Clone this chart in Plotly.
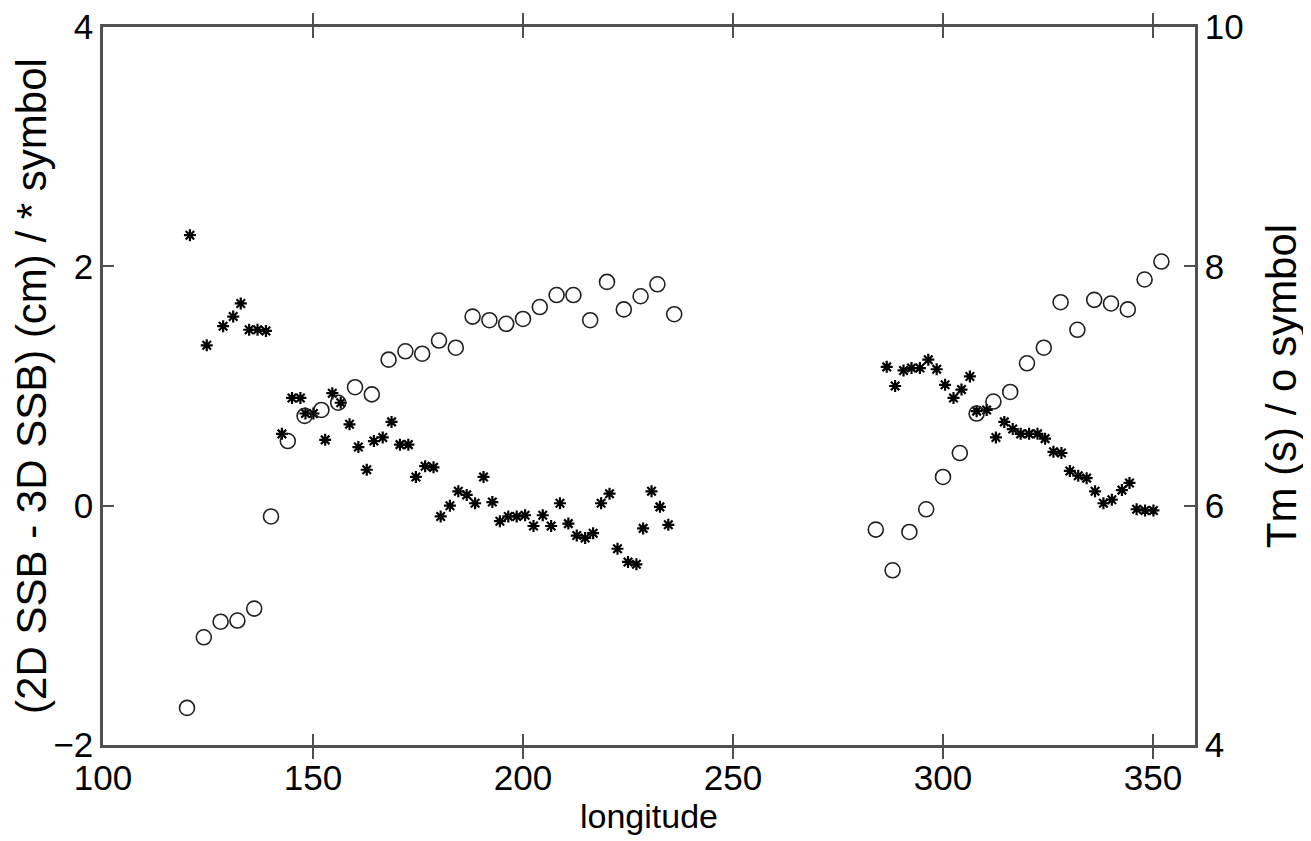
import plotly.graph_objects as go

# Tm (right axis, "o" symbol)
circle_lon = [120, 124, 128, 132, 136, 140, 144, 148, 152, 156, 160, 164, 168, 172, 176, 180,
              184, 188, 192, 196, 200, 204, 208, 212, 216, 220, 224, 228, 232, 236,
              284, 288, 292, 296, 300, 304, 308, 312, 316, 320, 324, 328, 332, 336, 340, 344, 348, 352]
circle_tm = [4.31, 4.90, 5.03, 5.04, 5.14, 5.91, 6.54, 6.75, 6.80, 6.86, 6.99, 6.93, 7.22, 7.29, 7.27, 7.38,
             7.32, 7.58, 7.55, 7.52, 7.56, 7.66, 7.76, 7.76, 7.55, 7.87, 7.64, 7.75, 7.85, 7.60,
             5.80, 5.46, 5.78, 5.97, 6.24, 6.44, 6.77, 6.87, 6.95, 7.19, 7.32, 7.70, 7.47, 7.72, 7.69, 7.64, 7.89, 8.04]

# SSB difference (left axis, "*" symbol)
star_lon = [120.7, 124.7, 128.6, 131.0, 132.8, 134.8, 136.8, 138.8, 142.6, 145.0, 147.0, 148.2, 150.1,
            152.9, 154.6, 156.6, 158.7, 160.8, 162.8, 164.5, 166.6, 168.7, 170.7, 172.7, 174.5, 176.7,
            178.7, 180.4, 182.6, 184.6, 186.6, 188.6, 190.6, 192.7, 194.5, 196.5, 198.5, 200.5, 202.5,
            204.7, 206.7, 208.8, 210.8, 212.8, 214.8, 216.7, 218.6, 220.6, 222.5, 225.0, 227.0, 228.6,
            230.6, 232.6, 234.6,
            286.6, 288.6, 290.6, 292.5, 294.5, 296.5, 298.5, 300.5, 302.5, 304.4, 306.4, 308.0, 310.4,
            312.6, 314.6, 316.6, 318.5, 320.5, 322.5, 324.3, 326.3, 328.2, 330.2, 332.2, 334.2, 336.2,
            338.2, 340.2, 342.6, 344.4, 346.1, 348.1, 350.1]
star_ssb = [2.26, 1.34, 1.50, 1.58, 1.69, 1.47, 1.47, 1.46, 0.60, 0.90, 0.90, 0.77, 0.77,
            0.55, 0.94, 0.86, 0.68, 0.49, 0.30, 0.54, 0.57, 0.70, 0.51, 0.51, 0.24, 0.33,
            0.32, -0.09, 0.00, 0.12, 0.09, 0.02, 0.24, 0.03, -0.13, -0.09, -0.09, -0.08, -0.17,
            -0.08, -0.17, 0.02, -0.15, -0.25, -0.27, -0.23, 0.02, 0.10, -0.36, -0.47, -0.49, -0.19,
            0.12, -0.01, -0.16,
            1.16, 1.00, 1.13, 1.15, 1.15, 1.22, 1.14, 1.01, 0.90, 0.97, 1.08, 0.79, 0.80,
            0.57, 0.70, 0.64, 0.60, 0.60, 0.60, 0.56, 0.45, 0.44, 0.29, 0.25, 0.23, 0.12,
            0.02, 0.05, 0.13, 0.19, -0.03, -0.04, -0.04]

x_ticks = [100, 150, 200, 250, 300, 350]
left_ticks = [-2, 0, 2, 4]
right_ticks = [4, 6, 8, 10]

FONT = "Liberation Sans, Arial, sans-serif"
AXIS_COLOR = "#505050"

fig = go.Figure()
fig.add_trace(go.Scatter(
    x=star_lon, y=star_ssb, mode="markers", yaxis="y",
    marker=dict(symbol="asterisk-open", size=10, color="black",
                line=dict(color="black", width=2.2)),
    showlegend=False))
fig.add_trace(go.Scatter(
    x=circle_lon, y=circle_tm, mode="markers", yaxis="y2",
    marker=dict(symbol="circle-open", size=15, color="#202020",
                line=dict(color="#202020", width=1.6)),
    showlegend=False))

# page body adds a small offset, so the figure is sized to sit inside the window
fig.update_layout(
    width=1303, height=833,
    margin=dict(l=95, r=116, t=19, b=96),
    paper_bgcolor="white", plot_bgcolor="white",
    font=dict(family=FONT, size=35, color="black"),
    xaxis=dict(range=[100, 360], tickvals=x_ticks, ticks="inside", ticklen=11,
               tickwidth=2, tickcolor=AXIS_COLOR, showline=True, linecolor=AXIS_COLOR,
               linewidth=2.5, mirror="allticks", showgrid=False, zeroline=False,
               automargin=False, ticklabeloverflow="allow",
               title=dict(text="longitude", standoff=0, font=dict(size=34)),
               tickfont=dict(size=35)),
    yaxis=dict(range=[-2, 4], tickvals=left_ticks, ticks="inside", ticklen=11,
               tickwidth=2, tickcolor=AXIS_COLOR, showline=True, linecolor=AXIS_COLOR,
               linewidth=2.5, showgrid=False, zeroline=False, automargin=False,
               ticklabeloverflow="allow",
               title=dict(text="(2D SSB - 3D SSB) (cm) / * symbol", standoff=16),
               tickfont=dict(size=35)),
    yaxis2=dict(range=[4, 10], tickvals=right_ticks, ticks="inside", ticklen=11,
                tickwidth=2, tickcolor=AXIS_COLOR, showline=True, linecolor=AXIS_COLOR,
                linewidth=2.5, showgrid=False, zeroline=False, overlaying="y", side="right",
                automargin=False, ticklabeloverflow="allow",
                title=dict(text="Tm (s) / o symbol", standoff=24),
                tickfont=dict(size=35)),
)

fig.write_html("out.html")
